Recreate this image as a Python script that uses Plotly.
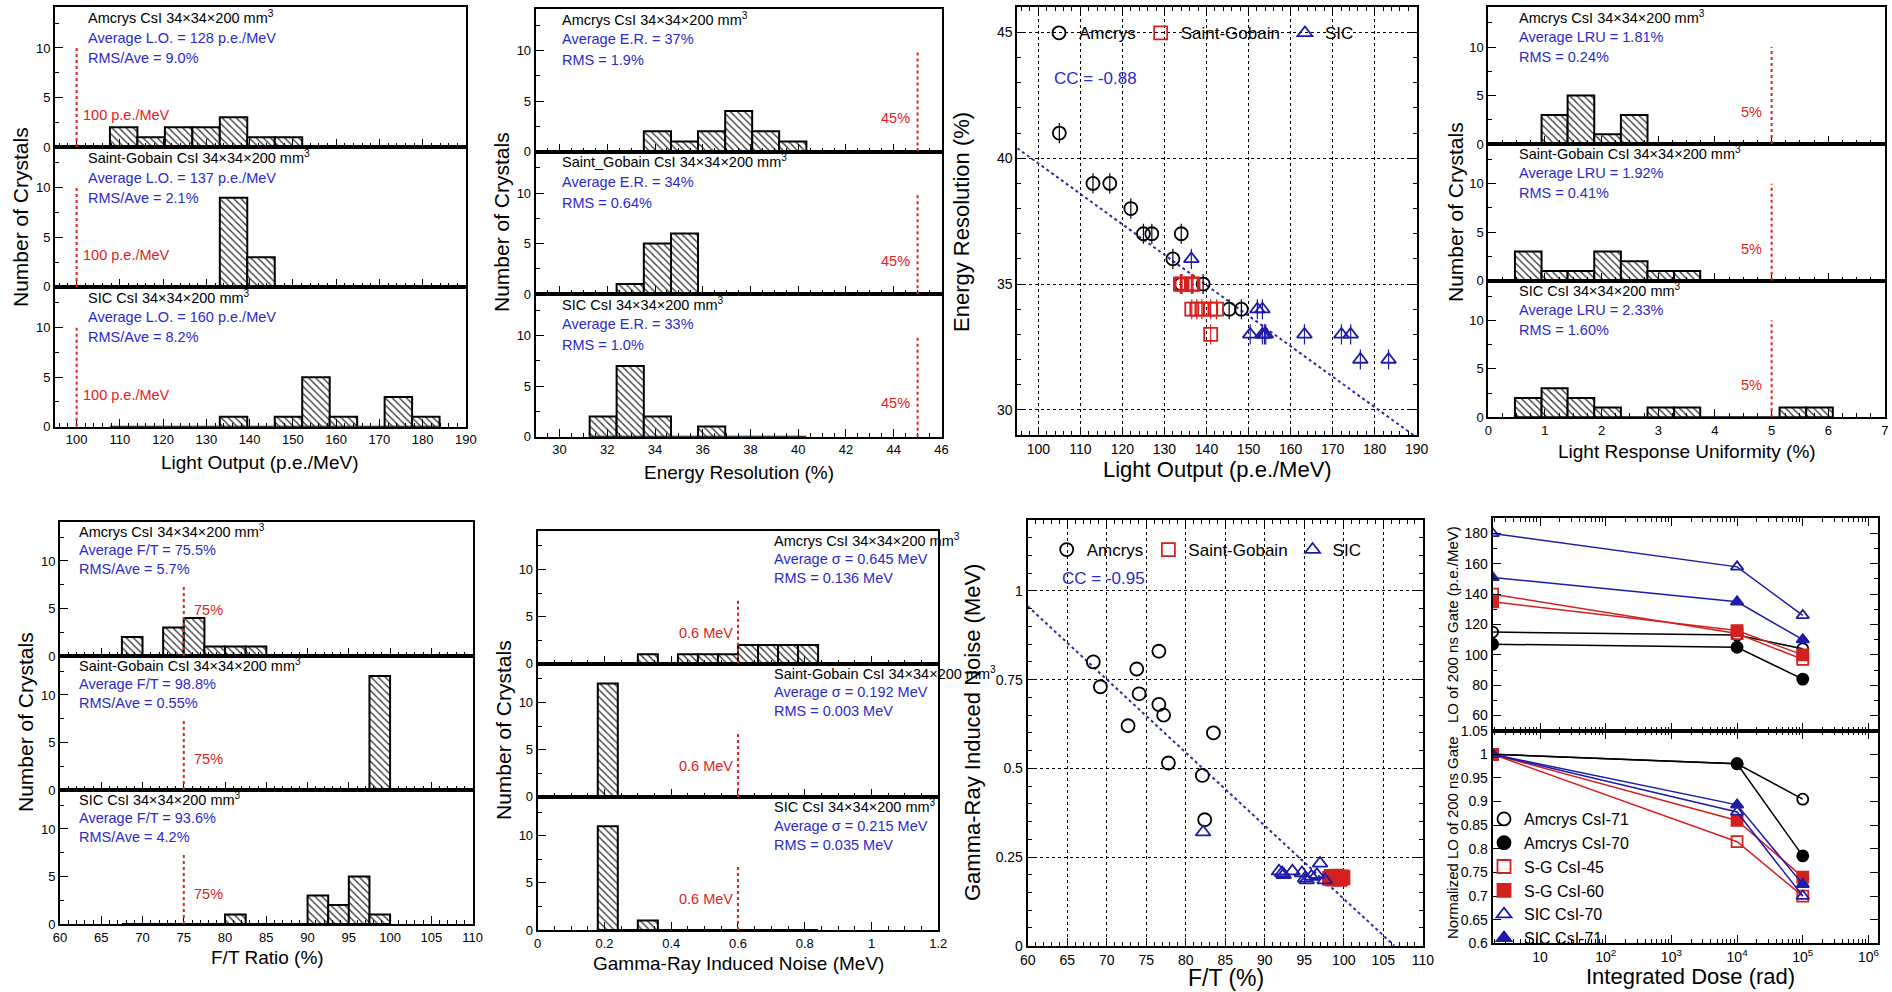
import numpy as np
import plotly.graph_objects as go

W, H = 1892, 992
FONT = "Liberation Sans, Arial, sans-serif"
BLUE_T = "#2a2acc"
RED_T = "#dd2222"
BLUE_M = "#1c1ca8"
RED_M = "#d42020"

# ---------------- data ----------------
names3 = ["Amcrys", "Saint-Gobain", "SIC"]

# Light output histograms
lo_edges = [107.7, 114.05, 120.4, 126.75, 133.1, 139.45, 145.8, 152.15, 158.5, 164.85, 171.2, 177.55, 183.9]
lo_amcrys = [2, 1, 2, 2, 3, 1, 1, 0, 0, 0, 0, 0]
lo_sg = [0, 0, 0, 0, 9, 3, 0, 0, 0, 0, 0, 0]
lo_sic = [0, 0, 0, 0, 1, 0, 1, 5, 1, 0, 3, 1]

# Energy resolution histograms
er_edges = [31.26, 32.39, 33.53, 34.67, 35.8, 36.94, 38.07, 39.2, 40.34]
er_amcrys = [0, 0, 2, 1, 2, 4, 2, 1]
er_sg = [0, 1, 5, 6, 0, 0, 0, 0]
er_sic = [2, 7, 2, 0, 1, 0, 0, 0]

# Light response uniformity histograms
lru_edges = [0.47, 0.94, 1.40, 1.87, 2.34, 2.81, 3.28, 3.74, 4.21, 4.67, 5.14, 5.61, 6.08]
lru_amcrys = [0, 3, 5, 1, 3, 0, 0, 0, 0, 0, 0, 0]
lru_sg = [3, 1, 1, 3, 2, 1, 1, 0, 0, 0, 0, 0]
lru_sic = [2, 3, 2, 1, 0, 1, 1, 0, 0, 0, 1, 1]

# F/T histograms
ft_edges = [67.5, 70, 72.5, 75, 77.5, 80, 82.5, 85, 87.5, 90, 92.5, 95, 97.5, 100]
ft_amcrys = [2, 0, 3, 4, 1, 1, 1, 0, 0, 0, 0, 0, 0]
ft_sg = [0, 0, 0, 0, 0, 0, 0, 0, 0, 0, 0, 0, 12]
ft_sic = [0, 0, 0, 0, 0, 1, 0, 0, 0, 3, 2, 5, 1]

# Gamma-ray induced noise histograms
gn_edges = [0.18, 0.24, 0.30, 0.36, 0.42, 0.48, 0.54, 0.60, 0.66, 0.72, 0.78, 0.84]
gn_amcrys = [0, 0, 1, 0, 1, 1, 1, 2, 2, 2, 2]
gn_sg = [12, 0, 0, 0, 0, 0, 0, 0, 0, 0, 0]
gn_sic = [11, 0, 1, 0, 0, 0, 0, 0, 0, 0, 0]

# Energy resolution vs light output
sc_lo_amcrys = [105, 113, 117, 122, 125, 127, 134, 132, 134, 139.2, 145.4, 148.3]
sc_er_amcrys = [41, 39, 39, 38, 37, 37, 37, 36, 35, 35, 34, 34]
sc_lo_sg = [133.8, 134.0, 134.2, 136.4, 136.6, 136.8, 136.5, 137.7, 138.9, 141.0, 142.4, 141.0]
sc_er_sg = [35, 35, 35, 35, 35, 35, 34, 34, 34, 34, 34, 33]
sc_lo_sic = [136.4, 152.1, 153.3, 150.4, 153.3, 154.1, 153.8, 163.3, 172.1, 174.3, 176.6, 183.3]
sc_er_sic = [36, 34, 34, 33, 33, 33, 33, 33, 33, 33, 32, 32]
fit1_x = [95, 190]
fit1_y = [40.4, 28.9]

# Gamma-ray induced noise vs F/T
nz_ft_amcrys = [68.3, 69.2, 72.7, 73.8, 74.1, 76.6, 76.6, 77.2, 77.8, 82.1, 83.5, 82.4]
nz_amcrys = [0.80, 0.73, 0.62, 0.78, 0.71, 0.83, 0.68, 0.65, 0.515, 0.48, 0.60, 0.355]
nz_ft_sg = [98.2, 98.4, 98.6, 98.8, 99.0, 99.1, 99.3, 99.4, 99.6, 99.8, 99.9, 99.5]
nz_sg = [0.19, 0.195, 0.188, 0.192, 0.19, 0.196, 0.189, 0.193, 0.19, 0.194, 0.191, 0.187]
nz_ft_sic = [82.2, 91.8, 92.2, 92.4, 93.5, 94.7, 95.1, 95.3, 95.9, 96.6, 97.0, 97.6]
nz_sic = [0.32, 0.21, 0.205, 0.20, 0.21, 0.205, 0.19, 0.185, 0.195, 0.20, 0.232, 0.185]
fit2_x = [60, 106.4]
fit2_y = [0.957, 0.0]

# Radiation damage
dose = [1.9, 1e4, 1e5]
rad_names = ["Amcrys CsI-71", "Amcrys CsI-70", "S-G CsI-45", "S-G CsI-60", "SIC CsI-70", "SIC CsI-71"]
rad_lo = [[115, 113, 104], [107, 105, 84], [140, 114, 97], [135, 116, 100], [180, 158, 126], [151, 135, 110]]
rad_norm = [[1, 0.98, 0.905], [1, 0.98, 0.785], [1, 0.815, 0.70], [1, 0.86, 0.74], [1, 0.878, 0.70], [1, 0.893, 0.725]]
rad_symbols = ["circle-open", "circle", "square-open", "square", "triangle-up-open", "triangle-up"]
rad_colors = ["black", "black", RED_M, RED_M, BLUE_M, BLUE_M]

# ---------------- helpers ----------------
fig = go.Figure()
layout = dict(template="none", width=W, height=H, margin=dict(l=0, r=0, t=0, b=0, pad=0),
              paper_bgcolor="white", plot_bgcolor="white",
              font=dict(family=FONT, color="black"), showlegend=True)
annotations = []
shapes = []


def aid(n):
    return "" if n == 1 else str(n)


AX = dict(showline=True, linecolor="black", linewidth=2, ticks="inside", tickcolor="black",
          tickwidth=1.3, ticklen=8, showgrid=False, zeroline=False, automargin=False,
          tickfont=dict(size=13, family=FONT, color="black"), fixedrange=True)


def minor(dt, t0=0):
    return dict(ticks="inside", ticklen=4, tickwidth=1, tickcolor="black", dtick=dt, tick0=t0)


def add_axis(n, box, xcfg, ycfg):
    L, R, T, B = box
    layout["xaxis" + aid(n)] = dict(domain=[L / W, R / W], anchor="y" + aid(n), **xcfg)
    layout["yaxis" + aid(n)] = dict(domain=[1 - B / H, 1 - T / H], anchor="x" + aid(n), **ycfg)


def text_ann(px, py, text, size, color, xanchor="left", yanchor="middle", angle=0):
    annotations.append(dict(xref="paper", yref="paper", x=px / W, y=1 - py / H, text=text,
                            showarrow=False, font=dict(size=size, color=color, family=FONT),
                            xanchor=xanchor, yanchor=yanchor, textangle=angle))


def hist_panel(n0, box, xrange, xdtick, xminor, edges, counts3, texts3, text_x, text_offs,
               thr, thr_top, thr_label, lab_x, lab_ys, lab_anchor):
    L, R, T, B = box
    h = (B - T) / 3
    e = np.array(edges, dtype=float)
    centers = (e[:-1] + e[1:]) / 2
    widths = np.diff(e)
    for k in range(3):
        n = n0 + k
        t = T + k * h
        b = t + h
        xcfg = dict(AX, range=xrange, dtick=xdtick, tick0=0, mirror=True,
                    showticklabels=(k == 2), minor=minor(xminor))
        ycfg = dict(AX, range=[0, 14.1], tickvals=[0, 5, 10], mirror=True, minor=minor(2.5))
        add_axis(n, (L, R, t, b), xcfg, ycfg)
        fig.add_trace(go.Bar(
            x=centers, y=counts3[k], width=widths, xaxis="x" + aid(n), yaxis="y" + aid(n),
            marker=dict(color="white", line=dict(color="black", width=2),
                        pattern=dict(shape="\\", fgcolor="#3a3a3a", bgcolor="white", size=5, solidity=0.28)),
            showlegend=False, hoverinfo="skip"))
        shapes.append(dict(type="line", xref="x" + aid(n), yref="y" + aid(n), x0=thr, x1=thr,
                           y0=0, y1=thr_top, line=dict(color=RED_T, width=2, dash="dot")))
        annotations.append(dict(xref="x" + aid(n), yref="y" + aid(n), x=lab_x, y=lab_ys[k],
                                text=thr_label, showarrow=False, xanchor=lab_anchor, yanchor="middle",
                                font=dict(size=14.5, color=RED_T, family=FONT)))
        for j, line in enumerate(texts3[k]):
            text_ann(text_x, t + text_offs[j], line, 14.5, "black" if j == 0 else BLUE_T)


SIZE = "34×34×200 mm<sup>3</sup>"

# ---------------- Panel 1: light output ----------------
hist_panel(1, (55, 466, 7.3, 426.7), [95, 190.01], 10, 2, lo_edges, [lo_amcrys, lo_sg, lo_sic],
           [["Amcrys CsI " + SIZE, "Average L.O. = 128 p.e./MeV", "RMS/Ave = 9.0%"],
            ["Saint-Gobain CsI " + SIZE, "Average L.O. = 137 p.e./MeV", "RMS/Ave = 2.1%"],
            ["SIC CsI " + SIZE, "Average L.O. = 160 p.e./MeV", "RMS/Ave = 8.2%"]],
           86, [10, 30.5, 50.5], 100, 10, "100 p.e./MeV", 101, [3.2, 3.2, 3.2], "left")
text_ann(20, 217, "Number of Crystals", 21, "black", "center", "middle", -90)
text_ann(260, 462, "Light Output (p.e./MeV)", 19, "black", "center", "middle")

# ---------------- Panel 2: energy resolution ----------------
hist_panel(4, (535.7, 941.7, 9, 436.7), [29, 46.01], 2, 0.5, er_edges, [er_amcrys, er_sg, er_sic],
           [["Amcrys CsI " + SIZE, "Average E.R. = 37%", "RMS = 1.9%"],
            ["Saint_Gobain CsI " + SIZE, "Average E.R. = 34%", "RMS = 0.64%"],
            ["SIC CsI " + SIZE, "Average E.R. = 33%", "RMS = 1.0%"]],
           560, [9.5, 30.3, 51], 45, 10, "45%", 44.75, [3.3, 3.3, 3.3], "right")
text_ann(502, 222, "Number of Crystals", 21, "black", "center", "middle", -90)
text_ann(739, 472, "Energy Resolution (%)", 19, "black", "center", "middle")

# ---------------- Panel 4: LRU ----------------
hist_panel(8, (1488.3, 1885, 7.3, 417.3), [0, 7.001], 1, 0.25, lru_edges, [lru_amcrys, lru_sg, lru_sic],
           [["Amcrys CsI " + SIZE, "Average LRU = 1.81%", "RMS = 0.24%"],
            ["Saint-Gobain CsI " + SIZE, "Average LRU = 1.92%", "RMS = 0.41%"],
            ["SIC CsI " + SIZE, "Average LRU = 2.33%", "RMS = 1.60%"]],
           1516.7, [9.4, 29.4, 49.4], 5, 10, "5%", 4.87, [3.3, 3.3, 3.3], "right")
text_ann(1455, 212, "Number of Crystals", 21, "black", "center", "middle", -90)
text_ann(1687, 452, "Light Response Uniformity (%)", 19, "black", "center", "middle")

# ---------------- Panel 5: F/T ----------------
hist_panel(11, (60, 472.7, 522, 924), [60, 110.01], 5, 1, ft_edges, [ft_amcrys, ft_sg, ft_sic],
           [["Amcrys CsI " + SIZE, "Average F/T = 75.5%", "RMS/Ave = 5.7%"],
            ["Saint-Gobain CsI " + SIZE, "Average F/T = 98.8%", "RMS/Ave = 0.55%"],
            ["SIC CsI " + SIZE, "Average F/T = 93.6%", "RMS/Ave = 4.2%"]],
           77, [9, 28, 47.3], 75, 7.5, "75%", 76, [4.8, 3.3, 3.2], "left")
text_ann(25, 722, "Number of Crystals", 21, "black", "center", "middle", -90)
text_ann(267, 957, "F/T Ratio (%)", 19, "black", "center", "middle")

# ---------------- Panel 6: gamma noise ----------------
hist_panel(14, (537.7, 938.3, 530.7, 930), [0, 1.2001], 0.2, 0.05, gn_edges, [gn_amcrys, gn_sg, gn_sic],
           [["Amcrys CsI " + SIZE, "Average σ = 0.645 MeV", "RMS = 0.136 MeV"],
            ["Saint-Gobain CsI " + SIZE, "Average σ = 0.192 MeV", "RMS = 0.003 MeV"],
            ["SIC CsI " + SIZE, "Average σ = 0.215 MeV", "RMS = 0.035 MeV"]],
           772, [9.3, 28.6, 47.6], 0.6, 7, "0.6 MeV", 0.59, [3.3, 3.3, 3.3], "right")
text_ann(503, 730, "Number of Crystals", 21, "black", "center", "middle", -90)
text_ann(738, 963, "Gamma-Ray Induced Noise (MeV)", 19, "black", "center", "middle")

# ---------------- Panel 3: ER vs LO scatter ----------------
SC = dict(AX, mirror="ticks", showgrid=True, gridcolor="black", griddash="dot", gridwidth=1,
          tickfont=dict(size=14, family=FONT, color="black"))
add_axis(7, (1017.3, 1416.7, 7.3, 435),
         dict(SC, range=[95, 190], dtick=10, tick0=0, minor=minor(2)),
         dict(SC, range=[29, 46], dtick=5, tick0=0, minor=minor(1)))
fig.add_trace(go.Scatter(x=fit1_x, y=fit1_y, mode="lines", xaxis="x7", yaxis="y7",
                         line=dict(color="#2a2ab0", width=2, dash="dot"), showlegend=False, hoverinfo="skip"))
sc_sets = [(sc_lo_amcrys, sc_er_amcrys, "circle-open", "black"),
           (sc_lo_sg, sc_er_sg, "square-open", RED_M),
           (sc_lo_sic, sc_er_sic, "triangle-up-open", BLUE_M)]
for (xs, ys, sym, col), nm in zip(sc_sets, names3):
    fig.add_trace(go.Scatter(x=xs, y=ys, mode="markers", xaxis="x7", yaxis="y7",
                             marker=dict(symbol=sym, size=13, color=col, line=dict(width=1.8, color=col)),
                             error_y=dict(type="constant", value=0.4, thickness=1.2, width=0, color=col),
                             showlegend=False, hoverinfo="skip"))
    fig.add_trace(go.Scatter(x=[None], y=[None], mode="markers", xaxis="x7", yaxis="y7", name=nm,
                             marker=dict(symbol=sym, size=13, color=col, line=dict(width=1.8, color=col)),
                             legend="legend", showlegend=True))
text_ann(1051.7, 78.3, "CC = -0.88", 17, BLUE_T)
text_ann(962, 222, "Energy Resolution (%)", 22, "black", "center", "middle", -90)
text_ann(1217, 469, "Light Output (p.e./MeV)", 22, "black", "center", "middle")

# ---------------- Panel 7: noise vs F/T ----------------
add_axis(17, (1027.7, 1422.8, 520, 945.7),
         dict(SC, range=[60, 110], dtick=5, tick0=0, minor=minor(1)),
         dict(SC, range=[0, 1.2], tickvals=[0, 0.25, 0.5, 0.75, 1],
              ticktext=["0", "0.25", "0.5", "0.75", "1"], minor=minor(0.05)))
fig.add_trace(go.Scatter(x=fit2_x, y=fit2_y, mode="lines", xaxis="x17", yaxis="y17",
                         line=dict(color="#2a2ab0", width=2, dash="dot"), showlegend=False, hoverinfo="skip"))
nz_sets = [(nz_ft_amcrys, nz_amcrys, "circle-open", "black", "circle-open"),
           (nz_ft_sg, nz_sg, "square", RED_M, "square-open"),
           (nz_ft_sic, nz_sic, "triangle-up-open", BLUE_M, "triangle-up-open")]
for (xs, ys, sym, col, lsym), nm in zip(nz_sets, names3):
    fig.add_trace(go.Scatter(x=xs, y=ys, mode="markers", xaxis="x17", yaxis="y17",
                             marker=dict(symbol=sym, size=13, color=col, line=dict(width=1.8, color=col)),
                             showlegend=False, hoverinfo="skip"))
    fig.add_trace(go.Scatter(x=[None], y=[None], mode="markers", xaxis="x17", yaxis="y17", name=nm,
                             marker=dict(symbol=lsym, size=13, color=col, line=dict(width=1.8, color=col)),
                             legend="legend2", showlegend=True))
text_ann(1060, 578.3, "CC = -0.95", 17, BLUE_T)
text_ann(972, 733, "Gamma-Ray Induced Noise (MeV)", 22, "black", "center", "middle", -90)
text_ann(1226, 978, "F/T (%)", 23, "black", "center", "middle")

# ---------------- Panel 8: radiation damage ----------------
decades = [10, 100, 1e3, 1e4, 1e5, 1e6]
dec_text = ["10", "10<sup>2</sup>", "10<sup>3</sup>", "10<sup>4</sup>", "10<sup>5</sup>", "10<sup>6</sup>"]
minor_log = [m * 10 ** d for d in range(0, 7) for m in range(2, 10)]
LOGX = dict(AX, type="log", range=[0.28, 6.15], tickvals=decades, ticktext=dec_text, mirror="ticks",
            tickfont=dict(size=14, family=FONT, color="black"),
            minor=dict(ticks="inside", ticklen=4, tickwidth=1, tickcolor="black", tickmode="array",
                       tickvals=minor_log))
add_axis(18, (1492.7, 1878.3, 518.3, 730.7),
         dict(LOGX, showticklabels=False),
         dict(AX, range=[50, 190], dtick=20, tick0=0, mirror="ticks", minor=minor(10),
              tickfont=dict(size=14, family=FONT, color="black")))
add_axis(19, (1492.7, 1878.3, 730.7, 943.3),
         dict(LOGX, showticklabels=True),
         dict(AX, range=[0.6, 1.05], mirror="ticks",
              tickvals=[0.6, 0.65, 0.7, 0.75, 0.8, 0.85, 0.9, 0.95, 1, 1.05],
              ticktext=["0.6", "0.65", "0.7", "0.75", "0.8", "0.85", "0.9", "0.95", "1", "1.05"],
              tickfont=dict(size=14, family=FONT, color="black")))
for nm, lo, nv, sym, col in zip(rad_names, rad_lo, rad_norm, rad_symbols, rad_colors):
    mk = dict(symbol=sym, size=11, color=col, line=dict(width=1.8, color=col))
    fig.add_trace(go.Scatter(x=dose, y=lo, mode="lines+markers", xaxis="x18", yaxis="y18",
                             line=dict(color=col, width=1.5), marker=mk, showlegend=False, hoverinfo="skip",
                             cliponaxis=True))
    fig.add_trace(go.Scatter(x=dose, y=nv, mode="lines+markers", xaxis="x19", yaxis="y19",
                             line=dict(color=col, width=1.5), marker=mk, showlegend=False, hoverinfo="skip",
                             cliponaxis=True))
    fig.add_trace(go.Scatter(x=[None], y=[None], mode="markers", xaxis="x19", yaxis="y19", name=nm,
                             marker=dict(symbol=sym, size=13, color=col, line=dict(width=1.8, color=col)),
                             legend="legend3", showlegend=True))
text_ann(1452, 625, "LO of 200 ns Gate (p.e./MeV)", 15, "black", "center", "middle", -90)
text_ann(1452, 838, "Normalized LO of 200 ns Gate", 15, "black", "center", "middle", -90)
text_ann(1690, 976, "Integrated Dose (rad)", 22, "black", "center", "middle")

# ---------------- legends ----------------
LEG = dict(bgcolor="rgba(0,0,0,0)", borderwidth=0, itemclick=False, itemdoubleclick=False)
layout["legend"] = dict(LEG, orientation="h", x=(1060 - 21) / W, y=1 - 33.3 / H, xanchor="left",
                        yanchor="middle", font=dict(size=17, family=FONT, color="black"))
layout["legend2"] = dict(LEG, orientation="h", x=(1067.7 - 21) / W, y=1 - 550 / H, xanchor="left",
                         yanchor="middle", font=dict(size=17, family=FONT, color="black"))
layout["legend3"] = dict(LEG, orientation="v", x=(1505 - 21) / W, y=1 - 802 / H, xanchor="left",
                         yanchor="top", tracegroupgap=0, font=dict(size=16, family=FONT, color="black"))

layout["annotations"] = annotations
layout["shapes"] = shapes
fig.update_layout(**layout)
fig.write_html("out.html", config={"displayModeBar": False},
               post_script="document.body.style.margin='0';document.body.style.overflow='hidden';")
